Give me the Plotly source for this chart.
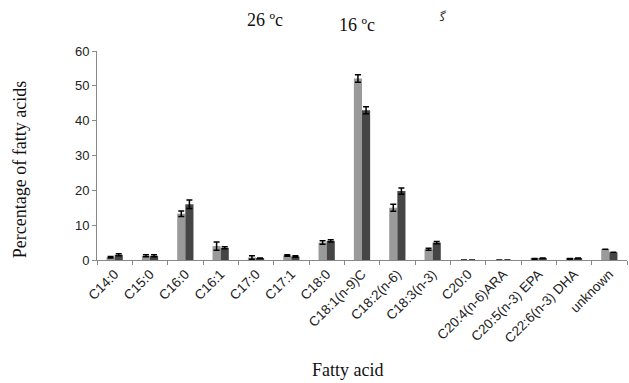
import plotly.graph_objects as go

categories = ["C14:0", "C15:0", "C16:0", "C16:1", "C17:0", "C17:1", "C18:0",
              "C18:1(n-9)C", "C18:2(n-6)", "C18:3(n-3)", "C20:0",
              "C20:4(n-6)ARA", "C20:5(n-3) EPA", "C22:6(n-3) DHA", "unknown"]
temp26 = [0.8, 1.2, 13.3, 4.0, 0.7, 1.3, 5.0, 52.1, 15.0, 3.1, 0, 0, 0.3, 0.3, 3.1]
err26 = [0.2, 0.3, 0.8, 1.2, 0.5, 0.2, 0.5, 1.1, 1.0, 0.3, 0, 0, 0.1, 0.1, 0]
temp16 = [1.5, 1.2, 16.0, 3.5, 0.5, 1.0, 5.5, 43.0, 19.8, 5.0, 0, 0, 0.5, 0.5, 2.2]
err16 = [0.3, 0.3, 1.2, 0.3, 0.1, 0.2, 0.3, 1.0, 0.9, 0.3, 0, 0, 0.1, 0.1, 0]
legend_labels = ["26 ºc", "16 ºc"]

fig = go.Figure()
fig.add_trace(go.Bar(x=categories, y=temp26, name=legend_labels[0],
                     marker=dict(color="#9a9a9a", line=dict(width=0)),
                     error_y=dict(type="data", array=err26, color="black",
                                  thickness=1.5, width=3)))
fig.add_trace(go.Bar(x=categories, y=temp16, name=legend_labels[1],
                     marker=dict(color="#454545", line=dict(width=0)),
                     error_y=dict(type="data", array=err16, color="black",
                                  thickness=1.5, width=3)))

fig.update_layout(
    width=629, height=383,
    margin=dict(l=97, r=2, t=51, b=123),
    paper_bgcolor="white", plot_bgcolor="white",
    barmode="group", bargap=0.54, bargroupgap=0,
    showlegend=False,
    font=dict(family="Liberation Sans, Arial", color="#222"),
)
fig.update_yaxes(range=[0, 60], dtick=10, showgrid=False, zeroline=False,
                 showline=True, linecolor="#888", linewidth=1,
                 ticks="outside", ticklen=4, tickcolor="#888",
                 tickfont=dict(size=13, family="Liberation Sans, Arial", color="#222"))
fig.update_xaxes(showgrid=False, showline=True, linecolor="#888", linewidth=1,
                 ticks="outside", ticklen=4, tickcolor="#888",
                 tickson="boundaries", tickangle=-45,
                 tickfont=dict(size=13.5, family="Liberation Sans, Arial", color="#222"))

serif = "Liberation Serif, Times New Roman"
fig.add_annotation(text="Percentage of fatty acids", xref="paper", yref="paper",
                   x=-0.145, y=0.43, textangle=-90, showarrow=False,
                   xanchor="center", yanchor="middle",
                   font=dict(family=serif, size=18, color="#111"))
fig.add_annotation(text="Fatty acid", xref="paper", yref="paper",
                   x=0.472, y=-0.526, showarrow=False, xanchor="center", yanchor="middle",
                   font=dict(family=serif, size=18, color="#111"))
fig.add_annotation(text=legend_labels[0], xref="paper", yref="paper",
                   x=0.317, y=1.148, showarrow=False, xanchor="center", yanchor="middle",
                   font=dict(family=serif, size=18, color="#111"))
fig.add_annotation(text=legend_labels[1], xref="paper", yref="paper",
                   x=0.49, y=1.125, showarrow=False, xanchor="center", yanchor="middle",
                   font=dict(family=serif, size=18, color="#111"))
fig.add_annotation(text="ﮔ", xref="paper", yref="paper",
                   x=0.651, y=1.163, showarrow=False, xanchor="center", yanchor="middle",
                   font=dict(family="DejaVu Sans", size=12, color="#333"))

fig.write_html("out.html")
